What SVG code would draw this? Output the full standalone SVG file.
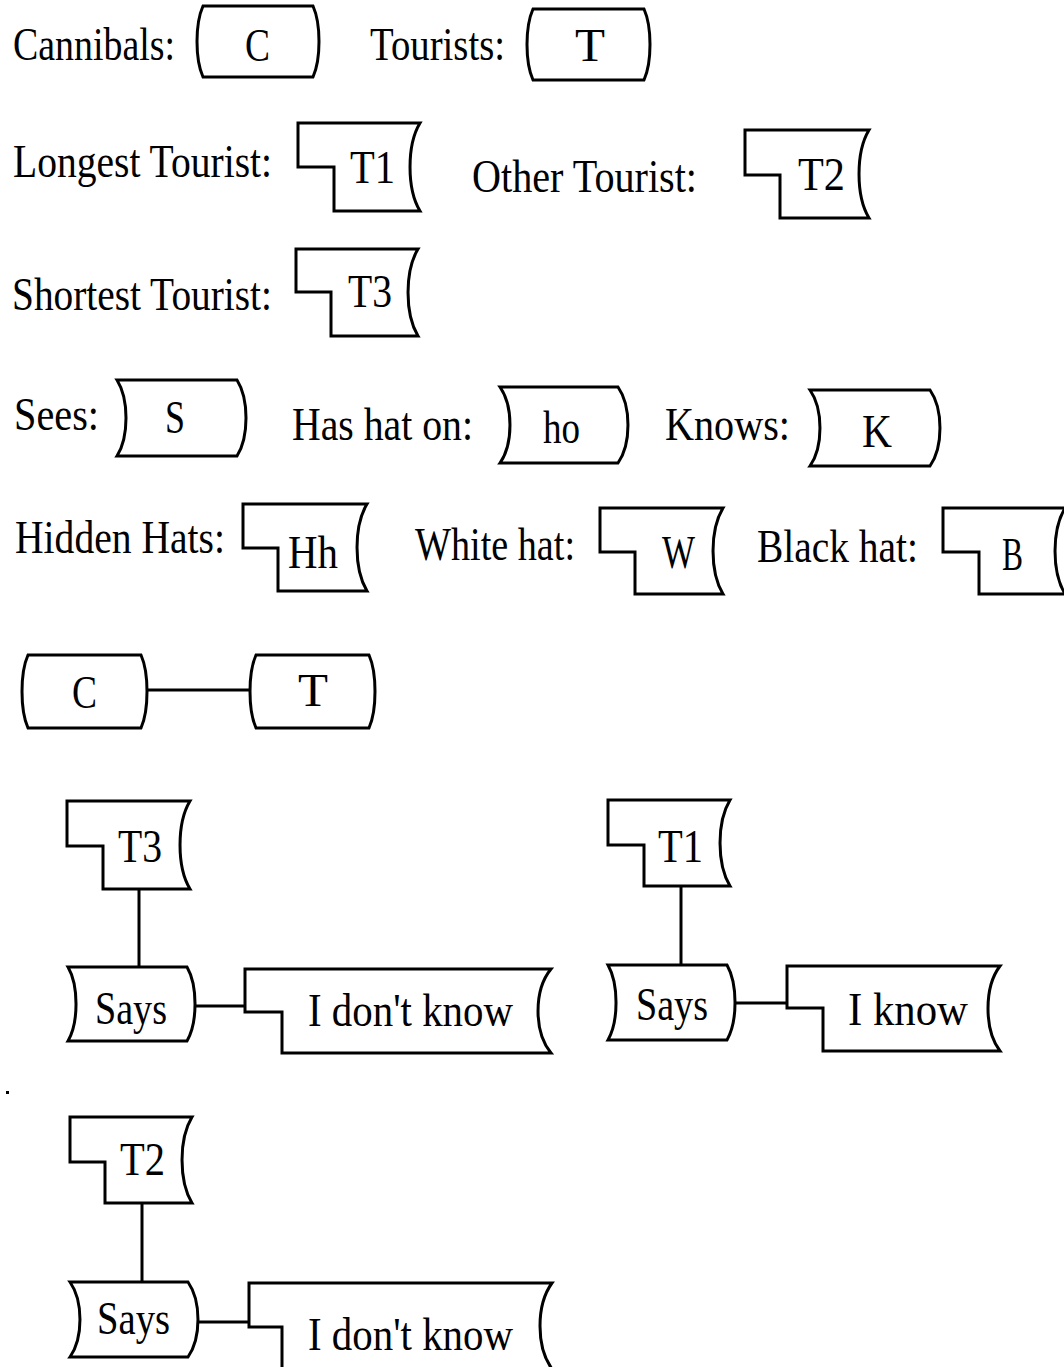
<svg xmlns="http://www.w3.org/2000/svg" width="1064" height="1367" viewBox="0 0 1064 1367">
<style>
.s{fill:#fff;stroke:#000;stroke-width:3;stroke-linejoin:miter}
.c{fill:none;stroke:#000;stroke-width:3}
text{font-family:"Liberation Serif","Times New Roman",serif;font-size:46px;fill:#000}
</style>
<rect width="1064" height="1367" fill="#fff"/>
<g id="labels">
<text x="13" y="60" textLength="162" lengthAdjust="spacingAndGlyphs">Cannibals:</text>
<text x="370" y="60" textLength="135" lengthAdjust="spacingAndGlyphs">Tourists:</text>
<text x="13" y="177" textLength="259" lengthAdjust="spacingAndGlyphs">Longest Tourist:</text>
<text x="472" y="192" textLength="225" lengthAdjust="spacingAndGlyphs">Other Tourist:</text>
<text x="12" y="310" textLength="260" lengthAdjust="spacingAndGlyphs">Shortest Tourist:</text>
<text x="14" y="430" textLength="85" lengthAdjust="spacingAndGlyphs">Sees:</text>
<text x="292" y="440" textLength="181" lengthAdjust="spacingAndGlyphs">Has hat on:</text>
<text x="665" y="440" textLength="125" lengthAdjust="spacingAndGlyphs">Knows:</text>
<text x="15" y="553" textLength="210" lengthAdjust="spacingAndGlyphs">Hidden Hats:</text>
<text x="415" y="560" textLength="160" lengthAdjust="spacingAndGlyphs">White hat:</text>
<text x="757" y="562" textLength="161" lengthAdjust="spacingAndGlyphs">Black hat:</text>
</g>
<g id="n-C1"><path class="s" d="M203,6 H313 C321,24 321,59 313,77 H203 C195,59 195,24 203,6 Z"/><text x="245" y="61" textLength="25" lengthAdjust="spacingAndGlyphs">C</text></g>
<g id="n-T1a"><path class="s" d="M533,9 H644 C652,27 652,62 644,80 H533 C525,62 525,27 533,9 Z"/><text x="575" y="61" textLength="30" lengthAdjust="spacingAndGlyphs">T</text></g>
<g id="n-T1"><path class="s" d="M298,123 H420 C406.7,145 406.7,189 420,211 H334 V167 H298 Z"/><text x="350" y="183" textLength="45" lengthAdjust="spacingAndGlyphs">T1</text></g>
<g id="n-T2"><path class="s" d="M745,130 H869 C855.7,152 855.7,196 869,218 H780 V175 H745 Z"/><text x="798" y="190" textLength="47" lengthAdjust="spacingAndGlyphs">T2</text></g>
<g id="n-T3"><path class="s" d="M296,249 H418 C404.7,271 404.7,314 418,336 H331 V292 H296 Z"/><text x="348" y="307" textLength="44" lengthAdjust="spacingAndGlyphs">T3</text></g>
<g id="n-S"><path class="s" d="M117,380 H237 C249,399 249,437 237,456 H117 C129,437 129,399 117,380 Z"/><text x="165" y="433" textLength="20" lengthAdjust="spacingAndGlyphs">S</text></g>
<g id="n-ho"><path class="s" d="M500,387 H618 C631.3,406 631.3,444 618,463 H500 C513.3,444 513.3,406 500,387 Z"/><text x="543" y="443" textLength="37" lengthAdjust="spacingAndGlyphs">ho</text></g>
<g id="n-K"><path class="s" d="M810,390 H930 C943.3,409 943.3,447 930,466 H810 C823.3,447 823.3,409 810,390 Z"/><text x="862" y="447" textLength="30" lengthAdjust="spacingAndGlyphs">K</text></g>
<g id="n-Hh"><path class="s" d="M243,504 H367 C353.7,526 353.7,569 367,591 H278 V548 H243 Z"/><text x="288" y="568" textLength="50" lengthAdjust="spacingAndGlyphs">Hh</text></g>
<g id="n-W"><path class="s" d="M600,508 H723 C709.7,530 709.7,572 723,594 H635 V552 H600 Z"/><text x="662" y="568" textLength="33" lengthAdjust="spacingAndGlyphs">W</text></g>
<g id="n-B"><path class="s" d="M943,508 H1065 C1051.7,530 1051.7,572 1065,594 H979 V552 H943 Z"/><text x="1002" y="570" textLength="21" lengthAdjust="spacingAndGlyphs">B</text></g>
<g id="n-C2"><path class="s" d="M28,655 H141 C149,673 149,710 141,728 H28 C20,710 20,673 28,655 Z"/><text x="72" y="708" textLength="25" lengthAdjust="spacingAndGlyphs">C</text></g>
<g id="n-T2b"><path class="s" d="M256,655 H369 C377,673 377,710 369,728 H256 C248,710 248,673 256,655 Z"/><text x="298" y="706" textLength="30" lengthAdjust="spacingAndGlyphs">T</text></g>
<g id="n-T3b"><path class="s" d="M67,801 H190 C176.7,823 176.7,867 190,889 H103 V846 H67 Z"/><text x="118" y="862" textLength="44" lengthAdjust="spacingAndGlyphs">T3</text></g>
<g id="n-says1"><path class="s" d="M68,967 H187 C197.7,985.5 197.7,1022.5 187,1041 H68 C78.7,1022.5 78.7,985.5 68,967 Z"/><text x="95" y="1024" textLength="72" lengthAdjust="spacingAndGlyphs">Says</text></g>
<g id="n-dk1"><path class="s" d="M245,969 H551 C533.7,990 533.7,1032 551,1053 H282 V1012 H245 Z"/><text x="308" y="1026" textLength="205" lengthAdjust="spacingAndGlyphs">I don't know</text></g>
<g id="n-T1b"><path class="s" d="M608,800 H730 C716.7,822 716.7,864 730,886 H644 V845 H608 Z"/><text x="658" y="862" textLength="45" lengthAdjust="spacingAndGlyphs">T1</text></g>
<g id="n-says2"><path class="s" d="M608,965 H727 C737.7,984 737.7,1021 727,1040 H608 C618.7,1021 618.7,984 608,965 Z"/><text x="636" y="1020" textLength="72" lengthAdjust="spacingAndGlyphs">Says</text></g>
<g id="n-know"><path class="s" d="M787,966 H1000 C984,987 984,1030 1000,1051 H823 V1008 H787 Z"/><text x="848" y="1025" textLength="120" lengthAdjust="spacingAndGlyphs">I know</text></g>
<g id="n-T2c"><path class="s" d="M70,1117 H192 C178.7,1139 178.7,1181 192,1203 H105 V1162 H70 Z"/><text x="120" y="1175" textLength="45" lengthAdjust="spacingAndGlyphs">T2</text></g>
<g id="n-says3"><path class="s" d="M70,1282 H188 C201.3,1301 201.3,1338 188,1357 H70 C83.3,1338 83.3,1301 70,1282 Z"/><text x="97" y="1334" textLength="73" lengthAdjust="spacingAndGlyphs">Says</text></g>
<g id="n-dk2"><path class="s" d="M249,1283 H552 C536,1305 536,1347 552,1369 H282 V1327 H249 Z"/><text x="308" y="1350" textLength="205" lengthAdjust="spacingAndGlyphs">I don't know</text></g>
<g id="connectors">
<path class="c" d="M147,690 H250"/>
<path class="c" d="M139,889 V967"/>
<path class="c" d="M195,1006 H245"/>
<path class="c" d="M681,886 V965"/>
<path class="c" d="M735,1003 H787"/>
<path class="c" d="M142,1203 V1282"/>
<path class="c" d="M198,1322 H249"/>
</g>
<rect x="6" y="1091" width="3" height="3" fill="#000"/>
</svg>
